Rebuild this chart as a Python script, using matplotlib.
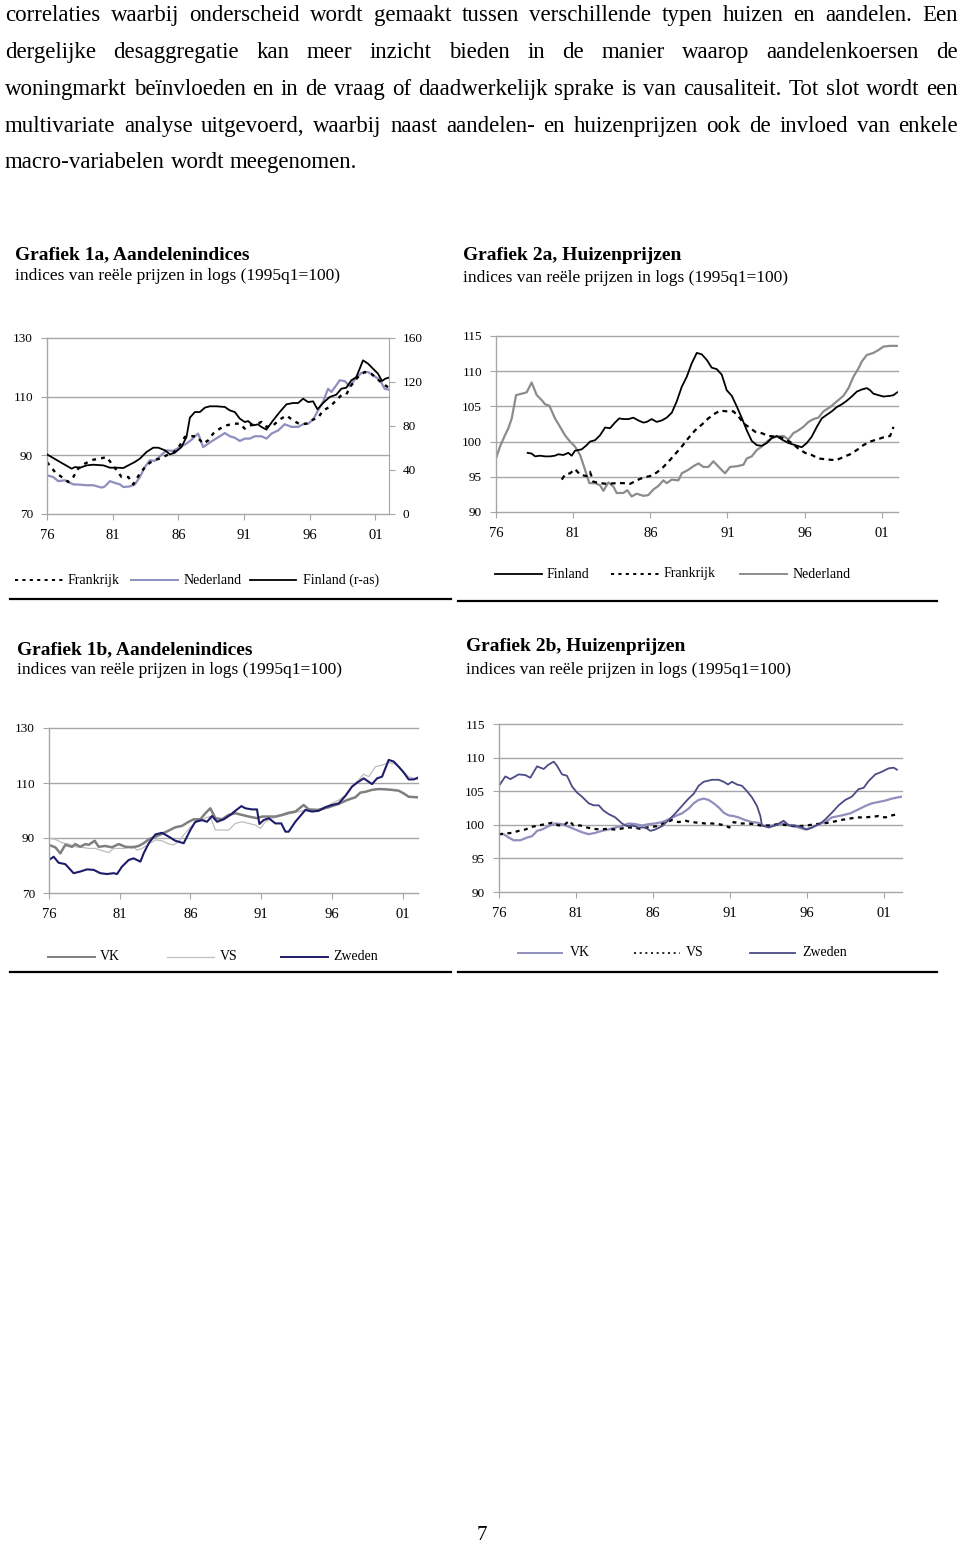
import matplotlib
matplotlib.use("Agg")
import matplotlib.pyplot as plt
from matplotlib.lines import Line2D

W, H = 960, 1543

# text above the charts
para_lines = [
    "correlaties waarbij onderscheid wordt gemaakt tussen verschillende typen huizen en aandelen. Een",
    "dergelijke desaggregatie kan meer inzicht bieden in de manier waarop aandelenkoersen de",
    "woningmarkt beïnvloeden en in de vraag of daadwerkelijk sprake is van causaliteit. Tot slot wordt een",
    "multivariate analyse uitgevoerd, waarbij naast aandelen- en huizenprijzen ook de invloed van enkele",
    "macro-variabelen wordt meegenomen.",
]
para_baselines = [21, 58, 95, 132, 168]

year_ticks = [1976, 1981, 1986, 1991, 1996, 2001]
year_labels = ["76", "81", "86", "91", "96", "01"]
subtitle = "indices van reële prijzen in logs (1995q1=100)"

# Grafiek 1a (aandelen): (jaar, index)
fra_1a = [(1976.0, 87.7), (1976.61, 84.3), (1977.12, 82.6), (1977.62, 80.9), (1978.0, 82.6),
          (1978.38, 85.5), (1978.89, 87.2), (1979.52, 88.5), (1980.03, 88.9), (1980.54, 89.4),
          (1980.92, 87.2), (1981.3, 84.9), (1981.68, 82.6), (1982.19, 82.6), (1982.57, 80.1),
          (1983.07, 83.8), (1983.58, 86.6), (1984.09, 88.3), (1984.6, 88.9), (1985.1, 90.0),
          (1985.61, 90.8), (1986.12, 93.4), (1986.5, 96.3), (1987.0, 96.5), (1987.38, 96.5),
          (1987.89, 94.0), (1988.27, 95.1), (1988.65, 97.4), (1989.16, 99.1), (1989.67, 100.2),
          (1990.17, 100.8), (1990.68, 100.8), (1991.06, 99.1), (1991.44, 100.2), (1991.95, 100.6),
          (1992.33, 101.4), (1992.71, 99.7), (1993.22, 100.2), (1993.72, 102.2), (1994.23, 103.6),
          (1994.74, 101.9), (1995.24, 100.6), (1995.75, 100.8), (1996.26, 102.2), (1996.64, 102.8),
          (1997.02, 105.3), (1997.53, 106.5), (1998.03, 108.8), (1998.41, 110.5), (1998.79, 110.8),
          (1999.17, 113.9), (1999.68, 116.7), (2000.19, 118.4), (2000.7, 117.8), (2001.2, 115.8),
          (2001.58, 114.4), (2002.0, 113.1)]
ned_1a = [(1976.0, 83.2), (1976.48, 82.6), (1976.86, 81.2), (1977.37, 81.5), (1977.75, 80.6),
          (1978.0, 80.1), (1978.51, 80.0), (1979.02, 79.8), (1979.52, 79.8), (1980.16, 79.0),
          (1980.41, 79.4), (1980.79, 81.2), (1981.17, 80.6), (1981.55, 80.1), (1981.81, 79.2),
          (1982.31, 79.4), (1982.69, 80.1), (1983.07, 82.6), (1983.45, 86.0), (1983.83, 88.3),
          (1984.21, 88.1), (1984.6, 89.7), (1985.1, 91.7), (1985.61, 91.5), (1986.12, 92.8),
          (1986.62, 94.0), (1987.0, 95.3), (1987.26, 96.5), (1987.51, 97.4), (1987.89, 92.8),
          (1988.27, 94.0), (1988.65, 95.1), (1989.16, 96.5), (1989.54, 97.6), (1989.92, 96.5),
          (1990.3, 96.0), (1990.68, 94.9), (1991.06, 95.7), (1991.44, 95.7), (1991.82, 96.5),
          (1992.33, 96.5), (1992.71, 95.7), (1993.09, 97.4), (1993.6, 98.5), (1994.1, 100.6),
          (1994.61, 99.7), (1995.12, 99.7), (1995.5, 100.6), (1995.88, 100.8), (1996.26, 102.2),
          (1996.64, 105.3), (1997.02, 108.2), (1997.4, 112.7), (1997.65, 111.6), (1998.03, 113.9),
          (1998.29, 115.6), (1998.67, 115.3), (1999.05, 113.5), (1999.43, 115.8), (1999.94, 118.1),
          (2000.44, 118.4), (2000.95, 116.9), (2001.33, 115.8), (2001.71, 112.7), (2002.0, 112.4)]
fin_1a = [(1976.0, 54.2), (1976.99, 47.3), (1977.88, 41.2), (1978.13, 42.7), (1978.51, 42.1),
          (1979.02, 44.2), (1979.52, 44.8), (1980.29, 44.2), (1980.79, 42.1), (1981.3, 42.1),
          (1981.81, 41.8), (1982.19, 44.2), (1982.69, 47.3), (1983.07, 50.3), (1983.58, 56.4),
          (1984.09, 60.3), (1984.47, 60.3), (1984.98, 57.9), (1985.36, 54.2), (1985.74, 55.8),
          (1986.24, 60.9), (1986.62, 70.0), (1986.88, 87.6), (1987.26, 92.7), (1987.64, 92.7),
          (1988.02, 96.7), (1988.4, 97.9), (1988.91, 97.9), (1989.54, 97.3), (1989.92, 94.2),
          (1990.3, 92.7), (1990.68, 86.7), (1991.06, 83.6), (1991.31, 84.5), (1991.69, 80.6),
          (1992.07, 81.5), (1992.33, 79.1), (1992.71, 76.7), (1993.22, 85.2), (1993.72, 92.7),
          (1994.23, 99.7), (1994.74, 100.9), (1995.12, 100.9), (1995.5, 104.8), (1995.88, 101.8),
          (1996.26, 102.4), (1996.59, 95.2), (1997.02, 100.9), (1997.53, 106.4), (1998.03, 108.5),
          (1998.41, 113.9), (1998.79, 114.8), (1999.17, 121.5), (1999.55, 124.5), (1999.81, 132.1),
          (2000.06, 139.7), (2000.44, 136.7), (2000.82, 132.1), (2001.2, 127.6), (2001.51, 120.9),
          (2001.76, 123.0), (2002.0, 123.9)]

# Grafiek 2a (huizen)
fin_2a = [(1978.05, 98.4), (1978.31, 98.3), (1978.53, 97.9), (1978.85, 98.0), (1979.18, 97.9),
          (1979.5, 97.9), (1979.82, 98.0), (1980.04, 98.2), (1980.36, 98.1), (1980.69, 98.4),
          (1980.9, 98.0), (1981.12, 98.7), (1981.55, 98.9), (1981.88, 99.5), (1982.09, 100.0),
          (1982.42, 100.2), (1982.74, 100.9), (1983.07, 102.0), (1983.39, 101.9), (1983.71, 102.7),
          (1983.99, 103.3), (1984.25, 103.2), (1984.58, 103.2), (1984.9, 103.4), (1985.23, 103.0),
          (1985.55, 102.7), (1985.77, 102.8), (1986.09, 103.2), (1986.41, 102.8), (1986.74, 103.0),
          (1987.06, 103.4), (1987.39, 104.1), (1987.71, 105.7), (1988.04, 107.8), (1988.36, 109.2),
          (1988.68, 111.1), (1989.01, 112.6), (1989.33, 112.4), (1989.66, 111.6), (1989.98, 110.5),
          (1990.3, 110.3), (1990.63, 109.5), (1990.95, 107.3), (1991.28, 106.5), (1991.6, 105.0),
          (1991.92, 103.4), (1992.25, 101.6), (1992.57, 100.1), (1992.9, 99.5), (1993.22, 99.4),
          (1993.55, 99.8), (1993.87, 100.5), (1994.19, 100.8), (1994.52, 100.3), (1994.95, 99.8),
          (1995.38, 99.5), (1995.81, 99.2), (1996.14, 99.8), (1996.46, 100.7), (1996.79, 102.1),
          (1997.11, 103.3), (1997.43, 103.8), (1997.76, 104.3), (1998.08, 104.9), (1998.41, 105.3),
          (1998.73, 105.8), (1999.05, 106.4), (1999.38, 107.1), (1999.7, 107.4), (2000.03, 107.6),
          (2000.24, 107.3), (2000.46, 106.8), (2000.78, 106.6), (2001.11, 106.4), (2001.54, 106.5),
          (2001.76, 106.6), (2002.0, 107.0)]
fra_2a = [(1980.26, 94.6), (1980.47, 95.3), (1980.8, 95.5), (1981.12, 96.1), (1981.45, 95.3),
          (1981.88, 95.1), (1982.09, 95.7), (1982.31, 94.3), (1982.74, 94.1), (1983.17, 94.0),
          (1983.82, 94.1), (1984.25, 94.1), (1984.69, 94.0), (1985.12, 94.5), (1985.55, 94.9),
          (1985.98, 95.1), (1986.41, 95.6), (1986.85, 96.4), (1987.28, 97.4), (1987.6, 98.2),
          (1988.04, 99.3), (1988.47, 100.5), (1988.9, 101.6), (1989.33, 102.4), (1989.76, 103.3),
          (1990.2, 104.0), (1990.52, 104.4), (1990.95, 104.3), (1991.38, 104.3), (1991.71, 103.6),
          (1992.03, 102.6), (1992.36, 102.1), (1992.79, 101.4), (1993.22, 101.2), (1993.65, 100.8),
          (1994.19, 100.7), (1994.63, 100.5), (1995.17, 99.8), (1995.6, 99.0), (1996.03, 98.4),
          (1996.46, 98.1), (1996.89, 97.6), (1997.33, 97.5), (1997.76, 97.4), (1998.08, 97.4),
          (1998.51, 97.8), (1998.95, 98.2), (1999.38, 98.8), (1999.81, 99.5), (2000.24, 100.0),
          (2000.68, 100.3), (2001.11, 100.6), (2001.54, 100.8), (2001.76, 102.1)]
ned_2a = [(1976.0, 97.6), (1976.26, 99.3), (1976.58, 100.9), (1976.8, 101.9), (1977.02, 103.3),
          (1977.3, 106.6), (1977.66, 106.8), (1977.99, 107.0), (1978.31, 108.4), (1978.64, 106.6),
          (1978.96, 105.9), (1979.18, 105.3), (1979.46, 105.1), (1979.82, 103.3), (1980.15, 102.1),
          (1980.47, 100.9), (1980.8, 100.0), (1981.12, 99.3), (1981.45, 98.1), (1981.77, 96.0),
          (1982.05, 94.1), (1982.42, 94.1), (1982.74, 93.8), (1982.96, 93.0), (1983.28, 94.2),
          (1983.61, 93.6), (1983.82, 92.7), (1984.25, 92.7), (1984.51, 93.1), (1984.79, 92.2),
          (1985.12, 92.6), (1985.55, 92.3), (1985.87, 92.4), (1986.2, 93.2), (1986.52, 93.7),
          (1986.85, 94.5), (1987.06, 94.1), (1987.39, 94.6), (1987.82, 94.5), (1988.04, 95.5),
          (1988.47, 96.0), (1988.79, 96.5), (1989.12, 96.9), (1989.44, 96.4), (1989.76, 96.4),
          (1990.09, 97.2), (1990.52, 96.2), (1990.84, 95.5), (1991.17, 96.4), (1991.6, 96.5),
          (1992.03, 96.7), (1992.25, 97.6), (1992.57, 97.9), (1992.9, 98.8), (1993.22, 99.3),
          (1993.55, 100.0), (1993.87, 100.5), (1994.19, 100.7), (1994.63, 100.8), (1994.95, 100.3),
          (1995.27, 101.2), (1995.6, 101.6), (1995.92, 102.1), (1996.25, 102.8), (1996.57, 103.2),
          (1996.89, 103.4), (1997.22, 104.3), (1997.65, 104.9), (1998.08, 105.7), (1998.51, 106.5),
          (1998.84, 107.6), (1999.16, 109.2), (1999.49, 110.4), (1999.71, 111.4), (2000.03, 112.3),
          (2000.46, 112.6), (2000.78, 113.0), (2001.11, 113.5), (2001.54, 113.6), (2001.97, 113.6)]

# Grafiek 1b (aandelen)
vk_1b = [(1976.0, 87.5), (1976.45, 86.6), (1976.8, 84.4), (1977.15, 87.5), (1977.63, 86.8),
         (1977.86, 87.8), (1978.21, 86.8), (1978.57, 87.8), (1978.8, 87.5), (1979.23, 89.0),
         (1979.51, 86.8), (1979.98, 87.1), (1980.45, 86.6), (1980.92, 87.8), (1981.4, 86.8),
         (1981.87, 86.6), (1982.34, 87.1), (1982.69, 88.1), (1983.05, 89.5), (1983.52, 90.5),
         (1983.99, 91.5), (1984.46, 92.7), (1984.93, 93.9), (1985.4, 94.4), (1985.87, 95.9),
         (1986.23, 96.8), (1986.7, 96.8), (1987.05, 99.0), (1987.4, 100.8), (1987.76, 97.2),
         (1988.23, 96.8), (1988.7, 98.4), (1989.17, 99.0), (1989.64, 98.4), (1990.11, 97.8),
         (1990.7, 97.2), (1991.06, 97.8), (1991.53, 97.8), (1992.0, 97.8), (1992.47, 98.4),
         (1992.94, 99.2), (1993.41, 99.6), (1994.0, 102.0), (1994.36, 100.4), (1995.06, 100.2),
         (1995.77, 101.2), (1996.48, 102.4), (1997.07, 103.8), (1997.65, 104.8), (1998.01, 106.5),
         (1998.36, 106.8), (1998.83, 107.5), (1999.3, 107.8), (1999.77, 107.7), (2000.25, 107.5),
         (2000.72, 107.2), (2001.07, 106.2), (2001.42, 105.0), (2002.05, 104.8)]
vs_1b = [(1976.0, 89.9), (1976.45, 89.5), (1976.92, 88.3), (1977.39, 87.8), (1977.86, 86.8),
         (1978.33, 86.6), (1978.8, 86.2), (1979.28, 86.2), (1979.75, 85.4), (1980.22, 84.7),
         (1980.57, 86.2), (1980.92, 86.2), (1981.4, 86.2), (1981.87, 87.1), (1982.22, 85.6),
         (1982.57, 86.2), (1983.05, 87.8), (1983.52, 89.3), (1983.99, 89.0), (1984.46, 87.8),
         (1984.81, 87.5), (1985.17, 88.7), (1985.52, 91.1), (1985.99, 93.9), (1986.34, 95.6),
         (1986.82, 96.5), (1987.17, 97.5), (1987.4, 97.8), (1987.76, 92.9), (1988.23, 92.9),
         (1988.7, 92.9), (1989.17, 95.3), (1989.64, 95.9), (1990.11, 95.3), (1990.59, 94.7),
         (1990.94, 93.5), (1991.29, 95.9), (1991.76, 97.2), (1992.23, 97.8), (1992.71, 98.4),
         (1993.18, 99.0), (1993.65, 99.6), (1994.12, 100.2), (1994.83, 100.2), (1995.53, 101.2),
         (1996.0, 102.6), (1996.48, 103.8), (1996.95, 105.6), (1997.42, 108.9), (1997.89, 111.1),
         (1998.24, 113.2), (1998.6, 112.3), (1999.07, 115.9), (1999.54, 116.5), (2000.01, 117.4),
         (2000.48, 116.9), (2000.95, 114.7), (2001.42, 112.3), (2002.05, 111.3)]
zwe_1b = [(1976.0, 82.0), (1976.33, 83.2), (1976.68, 81.0), (1977.15, 80.5), (1977.74, 77.2),
          (1978.21, 77.8), (1978.69, 78.6), (1979.16, 78.4), (1979.63, 77.2), (1980.1, 76.9),
          (1980.57, 77.2), (1980.81, 76.9), (1981.16, 79.6), (1981.63, 82.0), (1981.98, 82.6),
          (1982.46, 81.4), (1982.69, 84.4), (1983.05, 88.1), (1983.52, 91.3), (1983.99, 91.9),
          (1984.46, 90.5), (1984.93, 89.0), (1985.52, 88.1), (1985.99, 92.9), (1986.34, 95.9),
          (1986.82, 96.5), (1987.17, 95.9), (1987.52, 98.0), (1987.88, 95.9), (1988.35, 96.8),
          (1988.82, 98.4), (1989.17, 99.9), (1989.6, 101.6), (1989.88, 100.8), (1990.35, 100.4),
          (1990.7, 100.4), (1990.87, 95.1), (1991.17, 96.5), (1991.53, 97.2), (1992.0, 95.3),
          (1992.42, 95.3), (1992.71, 92.3), (1992.94, 92.3), (1993.41, 95.9), (1994.12, 100.2),
          (1994.59, 99.6), (1995.06, 99.9), (1995.53, 101.2), (1996.0, 102.0), (1996.48, 102.6),
          (1996.95, 105.3), (1997.42, 108.7), (1997.77, 110.1), (1998.24, 111.7), (1998.83, 109.6),
          (1999.19, 111.7), (1999.54, 112.3), (2000.01, 118.4), (2000.36, 117.8), (2000.72, 115.9),
          (2001.07, 113.8), (2001.42, 111.3), (2001.78, 111.3), (2002.05, 111.9)]

# Grafiek 2b (huizen)
vk_2b = [(1976.0, 98.6), (1976.3, 98.6), (1976.63, 98.1), (1976.95, 97.7), (1977.38, 97.7),
         (1977.82, 98.1), (1978.14, 98.3), (1978.47, 99.1), (1978.79, 99.3), (1979.22, 99.8),
         (1979.65, 100.2), (1980.09, 100.1), (1980.52, 99.7), (1980.95, 99.3), (1981.38, 98.9),
         (1981.82, 98.6), (1982.25, 98.8), (1982.68, 99.1), (1983.11, 99.3), (1983.55, 99.6),
         (1983.98, 99.8), (1984.41, 100.2), (1984.85, 100.1), (1985.28, 99.9), (1985.71, 100.1),
         (1986.14, 100.2), (1986.58, 100.4), (1987.01, 100.8), (1987.44, 101.3), (1987.87, 101.7),
         (1988.3, 102.4), (1988.63, 103.2), (1988.95, 103.7), (1989.28, 103.9), (1989.6, 103.7),
         (1989.93, 103.2), (1990.25, 102.6), (1990.58, 101.8), (1990.9, 101.4), (1991.22, 101.3),
         (1991.55, 101.1), (1991.98, 100.7), (1992.41, 100.4), (1992.85, 100.3), (1993.06, 99.9),
         (1993.5, 99.8), (1994.15, 100.1), (1994.58, 100.2), (1995.01, 99.8), (1995.44, 99.6),
         (1995.87, 99.3), (1996.31, 99.6), (1996.85, 100.2), (1997.17, 100.4), (1997.6, 101.1),
         (1998.25, 101.4), (1998.79, 101.7), (1999.33, 102.3), (1999.77, 102.8), (2000.2, 103.2),
         (2000.63, 103.4), (2001.06, 103.6), (2001.5, 103.9), (2002.15, 104.2)]
vs_2b = [(1976.0, 98.6), (1976.41, 98.7), (1976.84, 98.8), (1977.28, 99.1), (1977.71, 99.3),
         (1978.14, 99.7), (1978.57, 99.9), (1979.01, 100.1), (1979.44, 100.3), (1979.87, 99.9),
         (1980.3, 100.1), (1980.56, 100.6), (1980.84, 99.9), (1981.28, 99.9), (1981.71, 99.6),
         (1982.14, 99.4), (1982.57, 99.3), (1983.01, 99.4), (1983.44, 99.3), (1983.87, 99.4),
         (1984.3, 99.6), (1984.74, 99.6), (1985.17, 99.4), (1985.6, 99.6), (1985.93, 99.7),
         (1986.25, 99.8), (1986.58, 100.1), (1986.9, 100.4), (1987.22, 100.7), (1987.66, 100.4),
         (1988.09, 100.6), (1988.52, 100.4), (1988.95, 100.3), (1989.39, 100.2), (1989.82, 100.2),
         (1990.25, 100.1), (1990.68, 99.9), (1990.94, 99.6), (1991.22, 100.4), (1991.66, 100.2),
         (1992.09, 100.2), (1992.52, 100.1), (1992.96, 99.9), (1993.5, 99.9), (1994.15, 100.1),
         (1994.79, 99.9), (1995.44, 99.8), (1995.98, 99.9), (1996.52, 100.1), (1997.06, 100.2),
         (1997.6, 100.4), (1998.15, 100.7), (1998.69, 100.9), (1999.23, 101.1), (1999.77, 101.1),
         (2000.2, 101.2), (2000.63, 101.3), (2001.06, 101.1), (2001.5, 101.4), (2001.91, 101.6)]
zwe_2b = [(1976.0, 105.8), (1976.41, 107.2), (1976.74, 106.8), (1977.28, 107.5), (1977.71, 107.4),
          (1978.03, 107.0), (1978.47, 108.7), (1978.9, 108.3), (1979.18, 108.9), (1979.55, 109.4),
          (1979.76, 108.8), (1980.09, 107.5), (1980.41, 107.3), (1980.74, 105.7), (1981.06, 104.8),
          (1981.38, 104.2), (1981.82, 103.2), (1982.14, 102.9), (1982.47, 102.9), (1982.79, 102.1),
          (1983.11, 101.6), (1983.55, 101.1), (1983.98, 100.2), (1984.3, 99.8), (1984.63, 99.9),
          (1985.06, 99.6), (1985.49, 99.6), (1985.82, 99.1), (1986.14, 99.3), (1986.58, 99.8),
          (1987.01, 100.7), (1987.44, 101.7), (1987.87, 102.8), (1988.3, 103.9), (1988.63, 104.6),
          (1988.95, 105.8), (1989.28, 106.4), (1989.82, 106.7), (1990.25, 106.7), (1990.58, 106.4),
          (1990.86, 106.0), (1991.12, 106.4), (1991.44, 106.0), (1991.77, 105.8), (1992.09, 105.0),
          (1992.41, 104.1), (1992.74, 102.8), (1992.96, 101.3), (1993.06, 99.9), (1993.5, 99.6),
          (1993.93, 99.9), (1994.47, 100.6), (1994.79, 99.9), (1995.23, 99.9), (1995.66, 99.6),
          (1995.98, 99.3), (1996.31, 99.6), (1996.85, 100.2), (1997.17, 100.8), (1997.6, 101.8),
          (1998.04, 102.9), (1998.47, 103.7), (1998.9, 104.2), (1999.33, 105.3), (1999.66, 105.5),
          (1999.98, 106.5), (2000.42, 107.5), (2000.85, 107.9), (2001.28, 108.4), (2001.61, 108.5),
          (2001.82, 108.2)]

GRID = "#a6a6a6"

fig = plt.figure(figsize=(W / 100, H / 100), dpi=100)
plt.rcParams["font.family"] = "Liberation Serif"


def fx(x):
    return x / W


def fy(y):
    return 1 - y / H


def axes_px(left, top, right, bottom):
    return fig.add_axes([fx(left), fy(bottom), (right - left) / W, (bottom - top) / H])


def style(ax, xmax, ylim, yticks):
    ax.set_xlim(1976, xmax)
    ax.set_ylim(*ylim)
    ax.set_yticks(yticks)
    ax.set_xticks(year_ticks)
    ax.set_xticklabels(year_labels)
    ax.spines["top"].set_visible(False)
    ax.spines["right"].set_visible(False)
    for s in ["left", "bottom"]:
        ax.spines[s].set_color(GRID)
        ax.spines[s].set_linewidth(1)
    for v in yticks[1:]:
        ax.axhline(v, color=GRID, lw=1, zorder=0, clip_on=False)
    ax.tick_params(axis="y", length=4, color=GRID, labelsize=9.5, pad=6)
    ax.tick_params(axis="x", length=4, color=GRID, labelsize=10.5, pad=7)
    ax.patch.set_alpha(0)


def series(ax, data, **kw):
    t, v = zip(*data)
    ax.plot(t, v, **kw)


def line_key(x0, x1, y, **kw):
    fig.add_artist(Line2D([fx(x0), fx(x1)], [fy(y), fy(y)], transform=fig.transFigure, **kw))


def label(x, y, s, size=10, **kw):
    fig.text(fx(x), fy(y), s, fontsize=size, va="center", ha="left", **kw)


def rule(x0, x1, y):
    line_key(x0, x1, y, color="black", lw=1.6)


# paragraph, justified
renderer = fig.canvas.get_renderer()
PARA_X0, PARA_X1, PARA_SIZE = 5, 958, 16.5
em = PARA_SIZE * 100 / 72
for i, (txt, yb) in enumerate(zip(para_lines, para_baselines)):
    words = txt.split()
    arts = [fig.text(0, fy(yb), w, fontsize=PARA_SIZE, va="baseline") for w in words]
    widths = [a.get_window_extent(renderer).width for a in arts]
    total = sum(widths)
    if i == len(para_lines) - 1:
        gap = 0.25 * em
    else:
        gap = (PARA_X1 - PARA_X0 - total) / (len(words) - 1)
        if gap < 0.2 * em:
            gap = 0.2 * em
            k = (PARA_X1 - PARA_X0 - gap * (len(words) - 1)) / total
            for a in arts:
                a.set_fontsize(PARA_SIZE * k)
            widths = [w * k for w in widths]
    x = PARA_X0
    for a, w in zip(arts, widths):
        a.set_x(fx(x))
        x += w + gap

TITLE = 14
SUB = 12.5

# Grafiek 1a
label(15, 255, "Grafiek 1a, Aandelenindices", size=TITLE, fontweight="bold")
label(15, 276, subtitle, size=SUB)
ax = axes_px(47, 338, 389, 514)
style(ax, 2002.04, (70, 130), [70, 90, 110, 130])
series(ax, ned_1a, color="#8e8ebf", lw=1.6)
series(ax, fra_1a, color="black", lw=1.7, ls=(0, (1.6, 2.2)))
ax2 = ax.twinx()
ax2.set_ylim(0, 160)
ax2.set_yticks([0, 40, 80, 120, 160])
for s in ["top", "left", "bottom"]:
    ax2.spines[s].set_visible(False)
ax2.spines["right"].set_color(GRID)
ax2.tick_params(axis="y", length=4, color=GRID, labelsize=9.5, pad=6)
series(ax2, fin_1a, color="black", lw=1.3)
line_key(15, 63, 580, color="black", lw=1.4, ls=(0, (1.6, 2.2)))
label(68, 580, "Frankrijk")
line_key(131, 178, 580, color="#8e8ebf", lw=1.4)
label(184, 580, "Nederland")
line_key(250, 296, 580, color="black", lw=1.3)
label(303, 580, "Finland (r-as)")
rule(10, 451, 599)

# Grafiek 2a
label(463, 255, "Grafiek 2a, Huizenprijzen", size=TITLE, fontweight="bold")
label(463, 278, subtitle, size=SUB)
ax = axes_px(496, 336, 898, 512)
style(ax, 2002.05, (90, 115), [90, 95, 100, 105, 110, 115])
series(ax, ned_2a, color="#8c8c8c", lw=1.6)
series(ax, fra_2a, color="black", lw=1.6, ls=(0, (2.2, 2)))
series(ax, fin_2a, color="black", lw=1.3)
line_key(495, 542, 574, color="black", lw=1.3)
label(547, 574, "Finland")
line_key(611, 660, 574, color="black", lw=1.4, ls=(0, (1.6, 2.2)))
label(664, 574, "Frankrijk")
line_key(740, 787, 574, color="#8c8c8c", lw=1.4)
label(793, 574, "Nederland")
rule(458, 937, 601)

# Grafiek 1b
label(17, 650, "Grafiek 1b, Aandelenindices", size=TITLE, fontweight="bold")
label(17, 670, subtitle, size=SUB)
ax = axes_px(49, 728, 418, 893)
style(ax, 2002.08, (70, 130), [70, 90, 110, 130])
series(ax, vs_1b, color="#bdbdbd", lw=0.9)
series(ax, vk_1b, color="#7f7f7f", lw=1.8)
series(ax, zwe_1b, color="#1c1c6b", lw=1.5)
line_key(48, 95, 957, color="#7f7f7f", lw=1.4)
label(100, 957, "VK")
line_key(167, 214, 957, color="#c4c4c4", lw=1.0)
label(220, 957, "VS")
line_key(281, 328, 957, color="#1c1c6b", lw=1.4)
label(333, 957, "Zweden")
rule(10, 451, 972)

# Grafiek 2b
label(466, 646, "Grafiek 2b, Huizenprijzen", size=TITLE, fontweight="bold")
label(466, 670, subtitle, size=SUB)
ax = axes_px(499, 724, 902, 892)
style(ax, 2002.15, (90, 115), [90, 95, 100, 105, 110, 115])
series(ax, vk_2b, color="#8f8fbd", lw=1.6)
series(ax, vs_2b, color="black", lw=1.6, ls=(0, (1.8, 2)))
series(ax, zwe_2b, color="#4b4b85", lw=1.3)
line_key(518, 562, 953, color="#8f8fbd", lw=1.4)
label(570, 953, "VK")
line_key(634, 680, 953, color="black", lw=1.2, ls=(0, (1.2, 2.2)))
label(686, 953, "VS")
line_key(750, 795, 953, color="#4b4b85", lw=1.3)
label(802, 953, "Zweden")
rule(458, 937, 972)

fig.text(fx(482), fy(1535), "7", fontsize=15, ha="center", va="center")

fig.savefig("out.png", dpi=100)
